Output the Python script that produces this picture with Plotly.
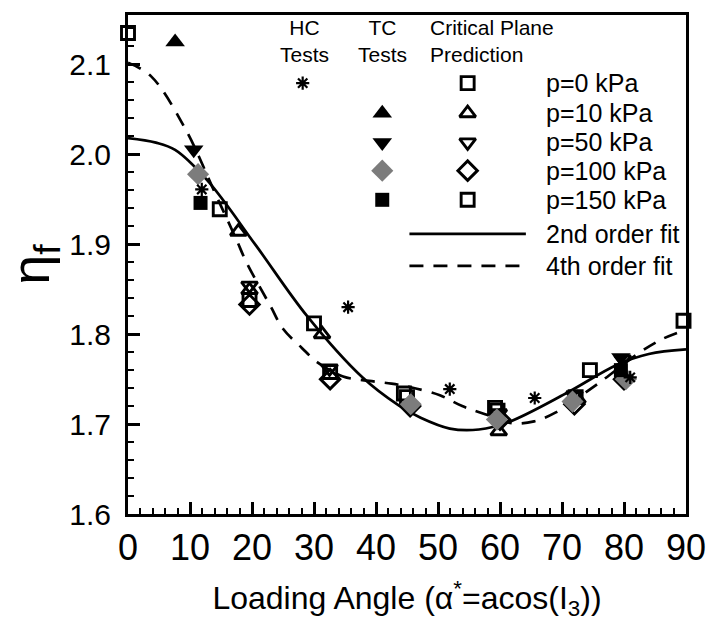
import plotly.graph_objects as go

# ---------------- data ----------------
fit2_x = [0, 4.5, 7.6, 12.8, 20.6, 28.9, 37.8, 43.6, 47.2, 51.9, 56.6, 61.3, 70.6, 78.9, 84, 90]
fit2_y = [2.018, 2.013, 2.005, 1.971, 1.899, 1.820, 1.752, 1.721, 1.707, 1.695, 1.694, 1.702, 1.734, 1.766, 1.778, 1.783]

fit4_x = [0, 3.7, 9.2, 14.1, 17.5, 19.1, 23, 25, 28, 30.5, 34.7, 38.9, 42.5, 45.6, 50.3, 53.9, 57.6, 62, 65.5, 69, 75.8, 82.6, 86.3, 90]
fit4_y = [2.102, 2.087, 2.029, 1.956, 1.905, 1.880, 1.831, 1.806, 1.785, 1.769, 1.753, 1.748, 1.745, 1.741, 1.732, 1.720, 1.711, 1.701, 1.703, 1.713, 1.745, 1.780, 1.795, 1.805]

hc_x = [11.9, 35.5, 51.9, 65.6, 81.0]
hc_y = [1.961, 1.830, 1.739, 1.729, 1.752]

tc10_x, tc10_y = [7.6], [2.125]
tc50_x, tc50_y = [10.6, 79.5], [2.005, 1.774]
tc100_x, tc100_y = [11.3, 45.6, 59.5, 71.7, 80.3], [1.978, 1.722, 1.705, 1.725, 1.750]
tc150_x, tc150_y = [11.7, 79.5], [1.946, 1.760]

cp0_x, cp0_y = [0, 30.0, 44.5, 59.2, 74.5, 89.6], [2.135, 1.812, 1.734, 1.718, 1.760, 1.815]
cp10_x, cp10_y = [17.8, 19.6, 31.3, 59.8, 72.5], [1.914, 1.849, 1.800, 1.692, 1.728]
cp50_x, cp50_y = [19.6, 32.5, 59.8, 72.0, 79.8], [1.854, 1.762, 1.712, 1.732, 1.772]
cp100_x, cp100_y = [19.6, 32.6, 45.5, 60.0, 72.0, 80.0], [1.833, 1.750, 1.720, 1.705, 1.722, 1.750]
cp150_x, cp150_y = [14.8, 19.6, 32.6, 45.0, 59.6, 72.2], [1.939, 1.838, 1.758, 1.730, 1.715, 1.730]

x_ticks = [0, 10, 20, 30, 40, 50, 60, 70, 80, 90]
y_ticks = [1.6, 1.7, 1.8, 1.9, 2.0, 2.1]

headers = ["HC<br>Tests", "TC<br>Tests", "Critical Plane<br>Prediction"]
row_labels = ["p=0 kPa", "p=10 kPa", "p=50 kPa", "p=100 kPa", "p=150 kPa"]
fit_labels = ["2nd order fit", "4th order fit"]

# ---------------- layout constants ----------------
W, H = 718, 623
L, R, T, B = 128, 703, 13, 526
FONT = "Arial, Liberation Sans, sans-serif"
GRAY = "#7c7c7c"


def px(x):
    return (x - L) / (R - L)


def py(y):
    return (B - y) / (B - T)


fig = go.Figure()

# fits
fig.add_trace(go.Scatter(x=fit2_x, y=fit2_y, mode="lines", line=dict(color="black", width=2.7, shape="spline"),
                         showlegend=False, hoverinfo="skip"))
fig.add_trace(go.Scatter(x=fit4_x, y=fit4_y, mode="lines",
                         line=dict(color="black", width=2.7, shape="spline", dash="14px,10px"),
                         showlegend=False, hoverinfo="skip"))


def open_marker(sym, size):
    return dict(symbol=sym, size=size, color="black", line=dict(color="black", width=2.9))


STAR = dict(symbol="asterisk-open", size=11, color="black", line=dict(color="black", width=2.2))
SIZES = {"square-open": 13, "triangle-up-open": 14, "triangle-down-open": 14, "diamond-open": 15}

# critical plane predictions (open)
cp_series = [
    (cp0_x, cp0_y, "square-open"),
    (cp10_x, cp10_y, "triangle-up-open"),
    (cp50_x, cp50_y, "triangle-down-open"),
    (cp100_x, cp100_y, "diamond-open"),
    (cp150_x, cp150_y, "square-open"),
]
for xs, ys, sym in cp_series:
    fig.add_trace(go.Scatter(x=xs, y=ys, mode="markers", marker=open_marker(sym, SIZES[sym]),
                             cliponaxis=False, showlegend=False))

# TC tests (filled)
tc_series = [
    (tc10_x, tc10_y, "triangle-up", 17, "black"),
    (tc50_x, tc50_y, "triangle-down", 17, "black"),
    (tc100_x, tc100_y, "diamond", 17, GRAY),
    (tc150_x, tc150_y, "square", 14, "black"),
]
for xs, ys, sym, sz, col in tc_series:
    fig.add_trace(go.Scatter(x=xs, y=ys, mode="markers",
                             marker=dict(symbol=sym, size=sz, color=col, line=dict(width=0)),
                             cliponaxis=False, showlegend=False))

# HC tests
fig.add_trace(go.Scatter(x=hc_x, y=hc_y, mode="markers", marker=STAR, showlegend=False))

# ---------------- legend (overlay axes in paper units) ----------------
rows_y = [83, 114, 144, 173, 203]
fit_rows_y = [238, 271]
col_hc, col_tc, col_cp, col_lab = 308, 390, 478, 557

leg_traces = [
    (col_hc, rows_y[0], STAR),
    (col_tc, rows_y[1], dict(symbol="triangle-up", size=17, color="black")),
    (col_tc, rows_y[2], dict(symbol="triangle-down", size=17, color="black")),
    (col_tc, rows_y[3], dict(symbol="diamond", size=17, color=GRAY)),
    (col_tc, rows_y[4], dict(symbol="square", size=14, color="black")),
    (col_cp, rows_y[0], open_marker("square-open", 13)),
    (col_cp, rows_y[1], open_marker("triangle-up-open", 14)),
    (col_cp, rows_y[2], open_marker("triangle-down-open", 14)),
    (col_cp, rows_y[3], open_marker("diamond-open", 15)),
    (col_cp, rows_y[4], open_marker("square-open", 13)),
]
for lx, ly, mk in leg_traces:
    fig.add_trace(go.Scatter(x=[px(lx)], y=[py(ly)], mode="markers", marker=mk,
                             xaxis="x2", yaxis="y2", showlegend=False, hoverinfo="skip", cliponaxis=False))

fig.add_trace(go.Scatter(x=[px(418), px(538)], y=[py(fit_rows_y[0])] * 2, mode="lines",
                         line=dict(color="black", width=2.7), xaxis="x2", yaxis="y2",
                         showlegend=False, hoverinfo="skip"))
fig.add_trace(go.Scatter(x=[px(418), px(538)], y=[py(fit_rows_y[1])] * 2, mode="lines",
                         line=dict(color="black", width=2.7, dash="14px,10px"), xaxis="x2", yaxis="y2",
                         showlegend=False, hoverinfo="skip"))

ann = []
hdr = dict(size=21, family=FONT, color="black")
for txt, x, anc in zip(headers, [310, 390, 437], ["center", "center", "left"]):
    ann.append(dict(text=txt, x=px(x), y=py(40), xref="paper", yref="paper", xanchor=anc, yanchor="middle",
                    align=anc, showarrow=False, font=hdr))
for txt, y in zip(row_labels + fit_labels, rows_y + fit_rows_y):
    ann.append(dict(text=txt, x=px(col_lab), y=py(y), xref="paper", yref="paper", xanchor="left",
                    yanchor="middle", showarrow=False, font=dict(size=25, family=FONT, color="black")))

axis_common = dict(showline=True, linewidth=3, linecolor="black", mirror=True, showgrid=False, zeroline=False,
                   ticks="inside", ticklen=12, tickwidth=3, tickcolor="black")

fig.update_layout(
    width=W, height=H,
    margin=dict(l=L, r=W - R, t=T, b=H - B),
    paper_bgcolor="white", plot_bgcolor="white",
    font=dict(family=FONT, color="black"),
    annotations=ann,
    xaxis=dict(axis_common, range=[0, 90], tickvals=x_ticks, ticktext=[str(v) for v in x_ticks],
               tickfont=dict(family=FONT, size=36), ticklabelstandoff=0, ticklabeloverflow="allow",
               minor=dict(ticks="inside", dtick=2, ticklen=6, tickwidth=1.5, tickcolor="black"),
               title=dict(text="Loading Angle (α<sup>*</sup>=acos(I<sub>3</sub>))",
                          font=dict(family=FONT, size=32), standoff=20)),
    yaxis=dict(axis_common, range=[1.6, 2.155], tickvals=y_ticks, ticktext=[f"{v:.1f}" for v in y_ticks],
               tickfont=dict(family=FONT, size=30), ticklabelstandoff=8,
               minor=dict(ticks="inside", dtick=0.02, ticklen=6, tickwidth=1.5, tickcolor="black"),
               title=dict(text="η<sub>f</sub>", font=dict(family=FONT, size=54), standoff=18)),
    xaxis2=dict(overlaying="x", range=[0, 1], visible=False, fixedrange=True),
    yaxis2=dict(overlaying="y", range=[0, 1], visible=False, fixedrange=True),
)

fig.write_html("out.html")
